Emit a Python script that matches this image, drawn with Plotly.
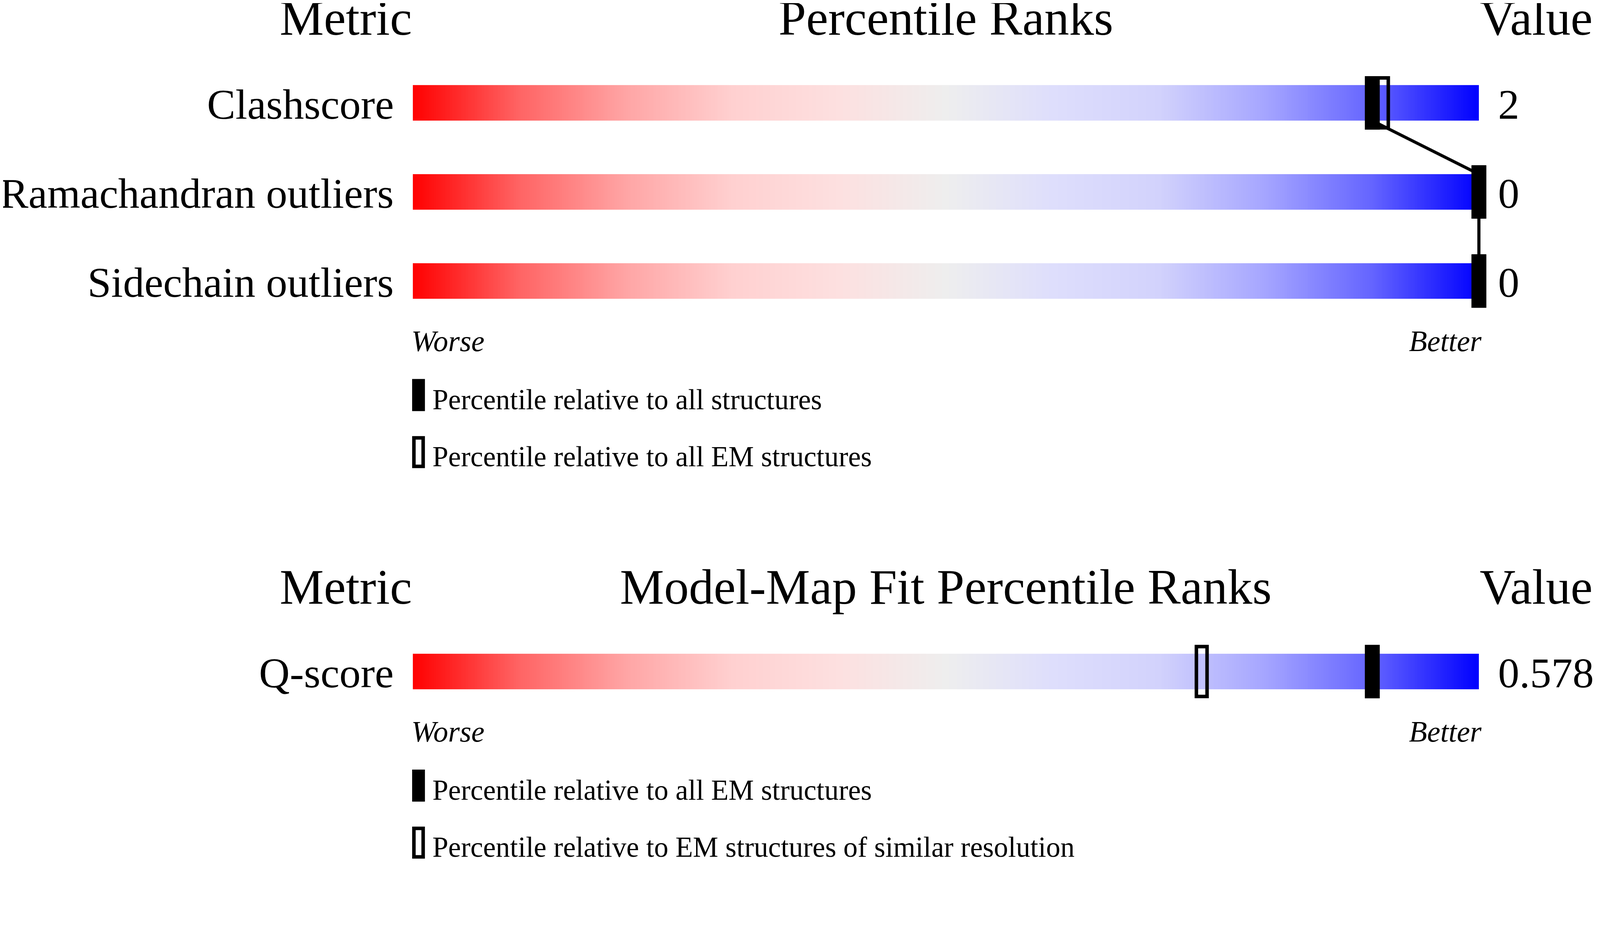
"""
Percentile-ranks slider chart (validation report style), drawn with plotly.
Two panels: geometry metrics and model-map fit, each with a gradient slider,
black marker = percentile vs all, hollow marker = percentile vs subset.
"""
import numpy as np
import plotly.graph_objects as go

# --- data ---
metrics = ["Clashscore", "Ramachandran outliers", "Sidechain outliers"]
pct_all = [90, 100, 100]          # filled marker
pct_em = [91, 100, 100]           # hollow marker
metric_values = ["2", "0", "0"]
legend_top = ["Percentile relative to all structures",
              "Percentile relative to all EM structures"]

fit_metrics = ["Q-score"]
fit_pct_em = [90]                 # filled marker
fit_pct_res = [74]                # hollow marker
fit_values = ["0.578"]
legend_bottom = ["Percentile relative to all EM structures",
                 "Percentile relative to EM structures of similar resolution"]

# --- layout constants (reference pixels) ---
W = 4485
H = 2615                      # page comes out a bit taller than the reference
BAR_L, BAR_R = 1153, 4153     # slider = 0..100
PAD = 2                       # extra axis room so end markers are not clipped
BAR_H = 100
MARK_H = 150
TOP_ROWS = [280, 530, 780]
BOT_ROWS = [1876]
PANEL_SHIFT = 1096
FONT = "Liberation Serif"
F_HEAD, F_LABEL, F_SMALL, F_ITAL = 127, 109, 73, 76

SCALE = [
    [0.0, "rgb(255,0,0)"],
    [0.1, "rgb(255,100,100)"],
    [0.2, "rgb(255,165,165)"],
    [0.3, "rgb(255,208,208)"],
    [0.4, "rgb(253,224,224)"],
    [0.5, "rgb(238,238,238)"],
    [0.6, "rgb(222,222,252)"],
    [0.7, "rgb(210,210,252)"],
    [0.8, "rgb(165,165,255)"],
    [0.9, "rgb(100,100,255)"],
    [1.0, "rgb(0,0,255)"],
]


def px(x):
    return x / W


fig = go.Figure()
shapes = []
annotations = []


def text(s, x, y, size, anchor="left", italic=False):
    annotations.append(dict(
        text=s, x=px(x), y=y, xref="paper", yref="y", showarrow=False,
        xanchor=anchor, yanchor="middle",
        font=dict(family=FONT, size=size, color="black",
                  style="italic" if italic else "normal"),
    ))


def panel(title, names, filled, hollow, values, legend, rows, offset):
    # headers
    hy = rows[0] - 238
    text("Metric", BAR_L, hy, F_HEAD, "right")
    text(title, (BAR_L + BAR_R) / 2, hy, F_HEAD, "center")
    text("Value", BAR_R, hy, F_HEAD, "left")

    edges = np.linspace(0, 100, 601)
    mids = (edges[:-1] + edges[1:]) / 2
    for name, f, h, v, yc in zip(names, filled, hollow, values, rows):
        fig.add_trace(go.Heatmap(
            x=edges, y=[yc - BAR_H / 2, yc + BAR_H / 2], z=[mids],
            colorscale=SCALE, zmin=0, zmax=100, showscale=False,
            hoverinfo="skip",
        ))
        text(name, 1101, yc + 4, F_LABEL, "right")
        text(v, 4205, yc + 4, F_LABEL, "left")
        # hollow marker, then filled on top
        shapes.append(dict(type="rect", xref="x", yref="y",
                           x0=h - 0.5, x1=h + 0.5,
                           y0=yc - MARK_H / 2 + 5, y1=yc + MARK_H / 2 - 5,
                           line=dict(color="black", width=9),
                           fillcolor="rgba(0,0,0,0)", layer="above"))
        shapes.append(dict(type="rect", xref="x", yref="y",
                           x0=f - 0.7, x1=f + 0.7,
                           y0=yc - MARK_H / 2, y1=yc + MARK_H / 2,
                           line=dict(width=0), fillcolor="black", layer="above"))

    # connecting line between filled markers
    for i in range(len(rows) - 1):
        fig.add_trace(go.Scatter(
            x=[filled[i], filled[i + 1]],
            y=[rows[i] + BAR_H / 2, rows[i + 1] - BAR_H / 2],
            mode="lines", line=dict(color="black", width=8),
            hoverinfo="skip", showlegend=False,
        ))

    wy = rows[-1] + 168
    text("Worse", BAR_L - 6, wy, F_ITAL, "left", italic=True)
    text("Better", BAR_R + 10, wy, F_ITAL, "right", italic=True)

    for k, lab in enumerate(legend):
        ly = 1100 + offset + k * 160
        if k == 0:
            shapes.append(dict(type="rect", xref="paper", yref="y",
                               x0=px(1151), x1=px(1187),
                               y0=ly - 45, y1=ly + 45,
                               line=dict(width=0), fillcolor="black"))
        else:
            shapes.append(dict(type="rect", xref="paper", yref="y",
                               x0=px(1156), x1=px(1182),
                               y0=ly - 40, y1=ly + 40,
                               line=dict(color="black", width=9),
                               fillcolor="white"))
        text(lab, 1206, ly + 13, F_SMALL, "left")


panel("Percentile Ranks", metrics, pct_all, pct_em, metric_values,
      legend_top, TOP_ROWS, 0)
panel("Model-Map Fit Percentile Ranks", fit_metrics, fit_pct_em, fit_pct_res,
      fit_values, legend_bottom, BOT_ROWS, PANEL_SHIFT)

unit = (BAR_R - BAR_L) / 100
fig.update_layout(
    autosize=True,
    margin=dict(l=0, r=0, t=0, b=0, pad=0),
    paper_bgcolor="white", plot_bgcolor="white",
    showlegend=False,
    xaxis=dict(range=[-PAD, 100 + PAD],
               domain=[px(BAR_L - PAD * unit), px(BAR_R + PAD * unit)],
               visible=False, showgrid=False, zeroline=False, fixedrange=True),
    yaxis=dict(range=[H, 0], domain=[0, 1], visible=False,
               showgrid=False, zeroline=False, fixedrange=True),
    shapes=shapes,
    annotations=annotations,
)

fig.write_html("out.html", config={"responsive": True})
